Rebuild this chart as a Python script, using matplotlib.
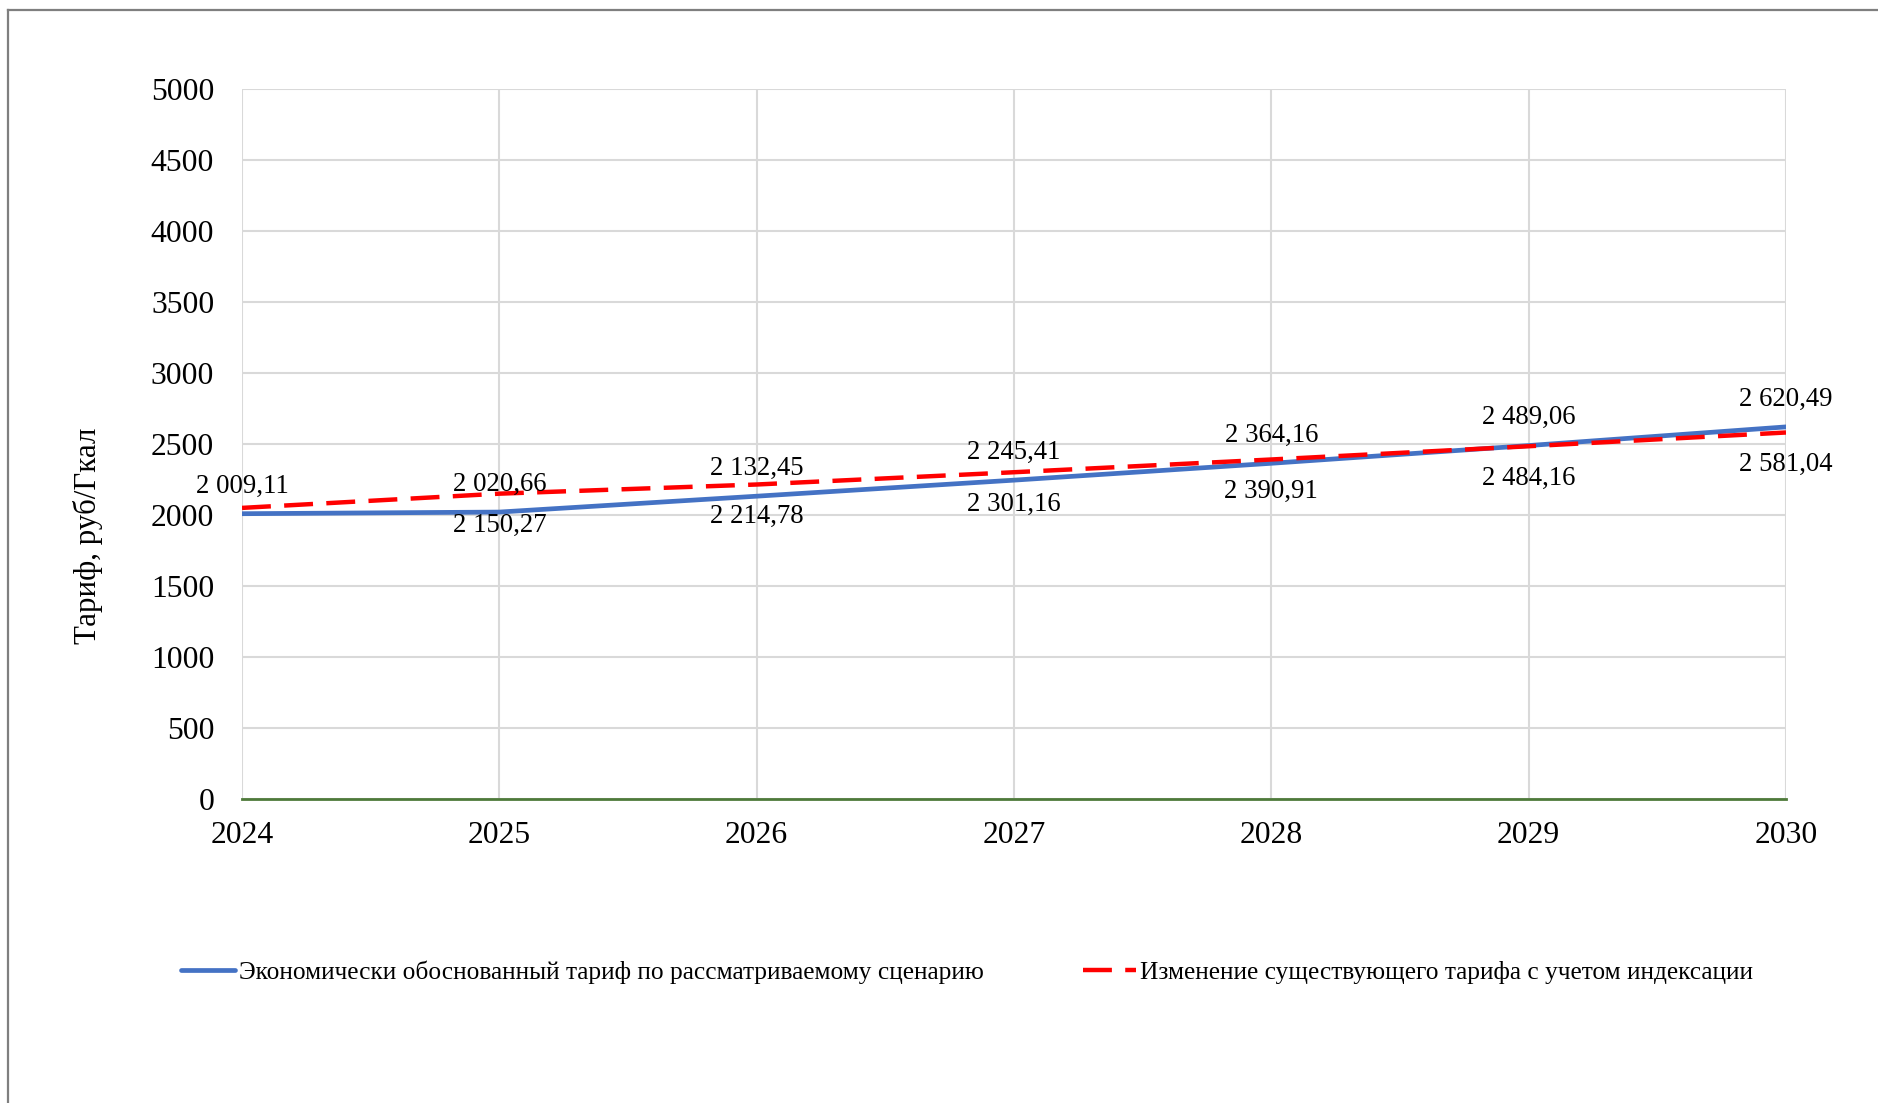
import matplotlib
matplotlib.use("Agg")
import matplotlib.pyplot as plt
from matplotlib.lines import Line2D

years = [2024, 2025, 2026, 2027, 2028, 2029, 2030]
econ_tariff = [2009.11, 2020.66, 2132.45, 2245.41, 2364.16, 2489.06, 2620.49]
indexed_tariff = [2050.00, 2150.27, 2214.78, 2301.16, 2390.91, 2484.16, 2581.04]
indexed_labels = [None, "2 150,27", "2 214,78", "2 301,16", "2 390,91", "2 484,16", "2 581,04"]
econ_labels = ["2 009,11", "2 020,66", "2 132,45", "2 245,41", "2 364,16", "2 489,06", "2 620,49"]
yticks = list(range(0, 5001, 500))

name_econ = "Экономически обоснованный тариф по рассматриваемому сценарию"
name_index = "Изменение существующего тарифа с учетом индексации"

plt.rcParams["font.family"] = ["Liberation Serif", "DejaVu Serif"]

W, H = 1878, 1103
fig = plt.figure(figsize=(W / 100, H / 100), dpi=100)
ax = fig.add_axes([242 / W, 1 - 799 / H, (1786 - 242) / W, (799 - 89) / H])

# outer frame (only top and left visible in the crop)
fig.add_artist(Line2D([8 / W, 1], [1 - 10 / H, 1 - 10 / H], transform=fig.transFigure,
                      color="#7f7f7f", lw=1.6))
fig.add_artist(Line2D([8 / W, 8 / W], [0, 1 - 10 / H], transform=fig.transFigure,
                      color="#7f7f7f", lw=1.6))

ax.plot(years, econ_tariff, color="#4472C4", lw=3.4, solid_capstyle="round",
        label=name_econ, zorder=3)
ax.plot(years, indexed_tariff, color="#FF0000", lw=3.2, dashes=(6.5, 3),
        label=name_index, zorder=3)

for x, y, t in zip(years, econ_tariff, econ_labels):
    ax.annotate(t, (x, y), xytext=(0, 20), textcoords="offset points",
                ha="center", va="center", fontsize=19.3, color="black",
                annotation_clip=False)
for x, y, t in zip(years, indexed_tariff, indexed_labels):
    if t:
        ax.annotate(t, (x, y), xytext=(0, -23), textcoords="offset points",
                    ha="center", va="center", fontsize=19.3, color="black",
                    annotation_clip=False)

ax.set_xlim(2024, 2030)
ax.set_ylim(0, 5000)
ax.set_xticks(years)
ax.set_yticks(yticks)
ax.tick_params(axis="both", length=0, labelsize=22.8)
ax.tick_params(axis="y", pad=20)
ax.tick_params(axis="x", pad=16)
ax.grid(True, color="#d9d9d9", lw=1.5)
ax.set_axisbelow(True)
for s in ["top", "left", "right"]:
    ax.spines[s].set_visible(False)
ax.spines["bottom"].set_color("#4e7a3a")
ax.spines["bottom"].set_linewidth(2)

fig.text(88 / W, 1 - 536 / H, "Тариф, руб/Гкал", rotation=90, ha="center",
         va="center", fontsize=22.3)

leg = fig.legend(loc="center", bbox_to_anchor=(967 / W, 1 - 972 / H), ncol=2,
                 frameon=False, fontsize=18.3, handlelength=2.1, handletextpad=0.15,
                 columnspacing=3.9)

fig.savefig("out.png", dpi=100, facecolor="white")
